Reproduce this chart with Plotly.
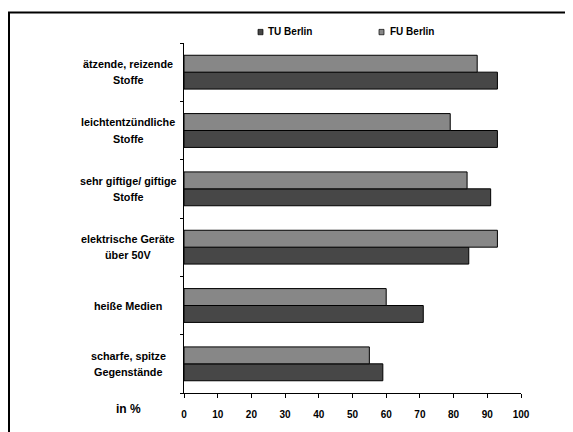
import plotly.graph_objects as go

categories = ["ätzende, reizende<br>Stoffe", "leichtentzündliche<br>Stoffe",
              "sehr giftige/ giftige<br>Stoffe", "elektrische Geräte<br>über 50V",
              "heiße Medien", "scharfe, spitze<br>Gegenstände"]
tu_berlin = [93, 93, 91, 84.5, 71, 59]
fu_berlin = [87, 79, 84, 93, 60, 55]
x_ticks = [0, 10, 20, 30, 40, 50, 60, 70, 80, 90, 100]
series_names = ["TU Berlin", "FU Berlin"]
series_colors = ["#474747", "#878787"]

# page body has an 8px default margin; figure is sized/placed to compensate
OFF = 8
W, H = 573 - OFF, 432 - OFF
PL, PR, PT, PB = 184, 521, 43, 403  # plot area in screen pixels
L, R, T, B = PL - OFF, W - (PR - OFF), PT - OFF, H - (PB - OFF)
pw, ph = PR - PL, PB - PT
font_fam = "Liberation Sans, Arial, sans-serif"


def px_x(p):
    return (p - PL) / pw


def px_y(p):
    return (PB - p) / ph


fig = go.Figure()
for name, vals, col in zip(series_names, [tu_berlin, fu_berlin], series_colors):
    fig.add_trace(go.Bar(y=categories, x=vals, orientation="h", name=name,
                         showlegend=False,
                         marker=dict(color=col, line=dict(color="#000000", width=1))))

annotations = []
for c in categories:
    lines = c.split("<br>")
    n = len(lines)
    for i, ln in enumerate(lines):
        shift = (n - 1) / 2 * 16.5 - i * 16.5
        annotations.append(dict(text=f"<b>{ln}</b>", xref="paper", yref="y",
                                x=px_x(128), y=c, yshift=shift, xanchor="center",
                                yanchor="middle", showarrow=False,
                                font=dict(size=10.8, family=font_fam, color="#000000")))

annotations.append(dict(text="<b>in %</b>", xref="paper", yref="paper",
                        x=px_x(128), y=px_y(419), xanchor="center", yanchor="middle",
                        showarrow=False, font=dict(size=12, family=font_fam)))

shapes = []
leg_sq_x = [258, 379]
leg_txt_x = [265.5, 388]
for name, col, sx, tx in zip(series_names, series_colors, leg_sq_x, leg_txt_x):
    shapes.append(dict(type="rect", xref="paper", yref="paper",
                       x0=px_x(sx), x1=px_x(sx + 5), y0=px_y(29), y1=px_y(34.5),
                       fillcolor=col, line=dict(color="#000000", width=0.7)))
    annotations.append(dict(text=f"<b>{name}</b>", xref="paper", yref="paper",
                            x=px_x(tx), y=px_y(31.5), xanchor="left", yanchor="middle",
                            showarrow=False, font=dict(size=10, family=font_fam)))

shapes.append(dict(type="line", xref="paper", yref="paper",
                   x0=px_x(8), x1=px_x(600), y0=px_y(11.5), y1=px_y(11.5),
                   line=dict(color="#000000", width=2)))
shapes.append(dict(type="line", xref="paper", yref="paper",
                   x0=px_x(9), x1=px_x(9), y0=px_y(11), y1=px_y(460),
                   line=dict(color="#000000", width=2)))

fig.update_layout(
    width=W, height=H,
    margin=dict(l=L, r=R, t=T, b=B, pad=0),
    paper_bgcolor="white", plot_bgcolor="white",
    barmode="group", bargap=0.42, bargroupgap=0,
    showlegend=False,
    font=dict(family=font_fam, color="#000000"),
    xaxis=dict(range=[0, 100], tickvals=x_ticks, ticktext=[f"<b>{v}</b>" for v in x_ticks],
               showgrid=False, zeroline=False, showline=True, linecolor="#000000", linewidth=1,
               ticks="outside", ticklen=4, tickcolor="#000000", ticklabelstandoff=8,
               tickfont=dict(size=10, family=font_fam)),
    yaxis=dict(categoryorder="array", categoryarray=categories[::-1],
               tickson="boundaries", showticklabels=False,
               showgrid=False, zeroline=False, showline=True, linecolor="#000000", linewidth=1,
               ticks="outside", ticklen=3, tickcolor="#000000"),
    shapes=shapes,
    annotations=annotations,
)

fig.write_html("out.html")
